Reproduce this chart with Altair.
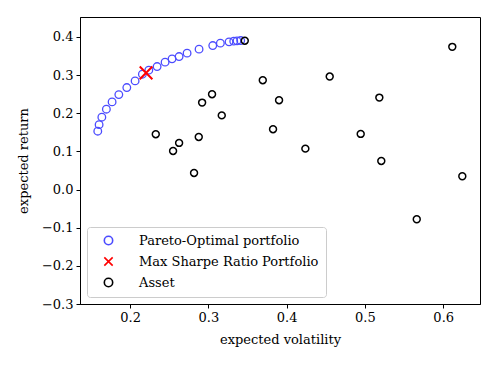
import altair as alt
import pandas as pd

pareto_vol = [0.1587, 0.1604, 0.1639, 0.1697, 0.1770, 0.1856, 0.1958, 0.2064, 0.2157, 0.2239,
              0.2345, 0.2447, 0.2536, 0.2626, 0.2728, 0.2881, 0.3056, 0.3153, 0.3264, 0.3324,
              0.3366, 0.3413]
pareto_ret = [0.1528, 0.1700, 0.1895, 0.2104, 0.2296, 0.2487, 0.2671, 0.2846, 0.3022, 0.3127,
              0.3221, 0.3337, 0.3423, 0.3483, 0.3573, 0.3678, 0.3772, 0.3835, 0.3869, 0.3887,
              0.3895, 0.3903]

sharpe_vol = [0.2204]
sharpe_ret = [0.3056]

asset_vol = [0.3465, 0.2328, 0.2549, 0.2626, 0.2817, 0.2877, 0.2920, 0.3047, 0.3171, 0.3695,
             0.3826, 0.3903, 0.4239, 0.4550, 0.4946, 0.5184, 0.5209, 0.5662, 0.6116, 0.6244]
asset_ret = [0.3900, 0.1449, 0.1011, 0.1221, 0.0434, 0.1378, 0.2277, 0.2498, 0.1942, 0.2865,
             0.1580, 0.2340, 0.1071, 0.2959, 0.1457, 0.2408, 0.0749, -0.0780, 0.3738, 0.0348]

kinds = ["Pareto-Optimal portfolio", "Max Sharpe Ratio Portfolio", "Asset"]
colors = ["#4c4cff", "#ff0000", "#000000"]
shapes = ["circle", "M-1,-1L1,1M-1,1L1,-1", "circle"]

x_ticks = [0.2, 0.3, 0.4, 0.5, 0.6]
y_ticks = [-0.3, -0.2, -0.1, 0.0, 0.1, 0.2, 0.3, 0.4]

df_p = pd.DataFrame({"vol": pareto_vol, "ret": pareto_ret, "kind": kinds[0]})
df_s = pd.DataFrame({"vol": sharpe_vol, "ret": sharpe_ret, "kind": kinds[1]})
df_a = pd.DataFrame({"vol": asset_vol, "ret": asset_ret, "kind": kinds[2]})

FONT = "DejaVu Serif"

xenc = alt.X("vol:Q", scale=alt.Scale(domain=[0.136, 0.647], nice=False, zero=False),
             axis=alt.Axis(values=x_ticks, format=".1f", title="expected volatility"))
yenc = alt.Y("ret:Q", scale=alt.Scale(domain=[-0.3, 0.452], nice=False, zero=False),
             axis=alt.Axis(values=y_ticks, format=".1f", title="expected return"))
cenc = alt.Color("kind:N", scale=alt.Scale(domain=kinds, range=colors),
                 legend=alt.Legend(title=None))
senc = alt.Shape("kind:N", scale=alt.Scale(domain=kinds, range=shapes),
                 legend=alt.Legend(title=None))

base_enc = dict(x=xenc, y=yenc, color=cenc, shape=senc)

p = alt.Chart(df_p).mark_point(filled=False, size=58, strokeWidth=1.3, opacity=1).encode(**base_enc)
s = alt.Chart(df_s).mark_point(filled=False, size=160, strokeWidth=2, opacity=1).encode(**base_enc)
a = alt.Chart(df_a).mark_point(filled=False, size=48, strokeWidth=1.5, opacity=1).encode(**base_enc)

chart = alt.layer(p, s, a).properties(
    width=400, height=287,
    autosize=alt.AutoSizeParams(type="none"),
    padding={"left": 72, "top": 9, "right": 10, "bottom": 49},
).configure_view(
    stroke="black", strokeWidth=1
).configure_axis(
    grid=False, domainColor="black", tickColor="black", labelColor="black",
    titleColor="black", labelFont=FONT, titleFont=FONT, labelFontSize=13,
    titleFontSize=13, titleFontWeight="normal", tickSize=4, labelPadding=3,
).configure_axisX(titlePadding=9).configure_axisY(titlePadding=11).configure_legend(
    orient="bottom-left", offset=7, labelFont=FONT, labelFontSize=13, labelColor="black",
    fillColor="white", strokeColor="#cccccc", cornerRadius=3, padding=7,
    symbolStrokeWidth=1.6, symbolSize=70, rowPadding=6, labelOffset=24,
    symbolOffset=8, labelLimit=400,
)

chart.save("out.html", embed_options={"renderer": "svg", "actions": False})
